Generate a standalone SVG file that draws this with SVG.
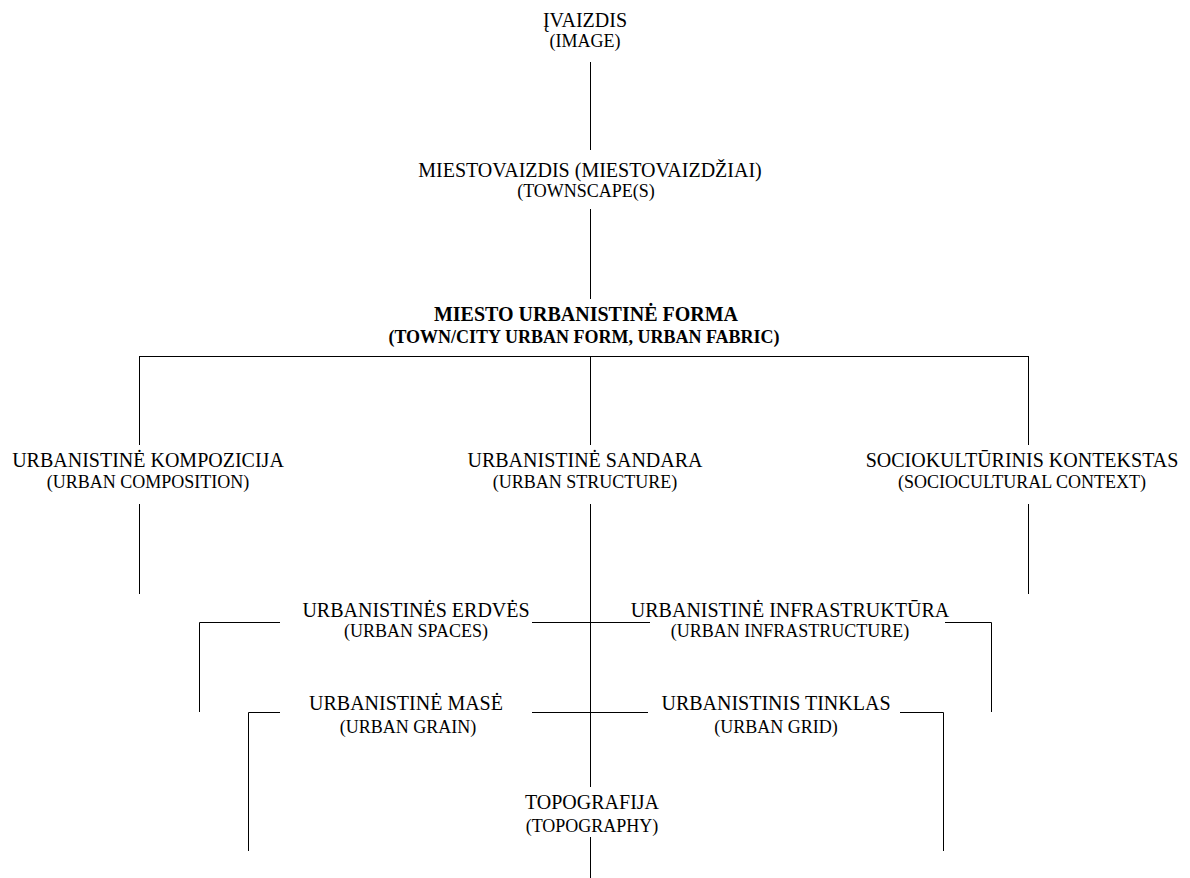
<svg xmlns="http://www.w3.org/2000/svg" width="1190" height="878" viewBox="0 0 1190 878">
<style>
.t1{font-size:20px}
.t2{font-size:18px}
.b{font-weight:bold}
.c line,.c path{stroke:#000;stroke-width:1;fill:none}
</style>
<rect width="1190" height="878" fill="#fff"/>
<g class="c" id="connectors">
<line x1="590.5" y1="62" x2="590.5" y2="150"/>
<line x1="590.5" y1="209" x2="590.5" y2="299"/>
<line x1="139" y1="356.5" x2="1029" y2="356.5"/>
<line x1="590.5" y1="356" x2="590.5" y2="445"/>
<line x1="139.5" y1="356" x2="139.5" y2="445"/>
<line x1="1028.5" y1="356" x2="1028.5" y2="445"/>
<line x1="139.5" y1="504" x2="139.5" y2="594"/>
<line x1="1028.5" y1="504" x2="1028.5" y2="594"/>
<line x1="590.5" y1="504" x2="590.5" y2="787"/>
<line x1="590.5" y1="837" x2="590.5" y2="878"/>
<path d="M280,622.5 H199.5 V712"/>
<line x1="532" y1="622.5" x2="650" y2="622.5"/>
<path d="M945,622.5 H991.5 V712"/>
<path d="M280,712.5 H248.5 V851"/>
<line x1="532" y1="712.5" x2="648" y2="712.5"/>
<path d="M900,712.5 H943.5 V851"/>
</g>
<g id="nodes" font-family="Liberation Serif" fill="#000" text-anchor="middle">
<g id="n-image"><text class="t1" x="585" y="27">ĮVAIZDIS</text><text class="t2" x="585" y="47">(IMAGE)</text></g>
<g id="n-townscape"><text class="t1" x="590" y="177">MIESTOVAIZDIS (MIESTOVAIZDŽIAI)</text><text class="t2" x="586" y="197">(TOWNSCAPE(S)</text></g>
<g id="n-form"><text class="t1 b" x="586" y="321">MIESTO URBANISTINĖ FORMA</text><text class="t2 b" x="584" y="343">(TOWN/CITY URBAN FORM, URBAN FABRIC)</text></g>
<g id="n-composition"><text class="t1" x="148" y="467">URBANISTINĖ KOMPOZICIJA</text><text class="t2" x="148" y="488">(URBAN COMPOSITION)</text></g>
<g id="n-structure"><text class="t1" x="585" y="467">URBANISTINĖ SANDARA</text><text class="t2" x="585" y="488">(URBAN STRUCTURE)</text></g>
<g id="n-context"><text class="t1" x="1022" y="467">SOCIOKULTŪRINIS KONTEKSTAS</text><text class="t2" x="1022" y="488">(SOCIOCULTURAL CONTEXT)</text></g>
<g id="n-spaces"><text class="t1" x="416" y="617">URBANISTINĖS ERDVĖS</text><text class="t2" x="416" y="637">(URBAN SPACES)</text></g>
<g id="n-infrastructure"><text class="t1" x="790" y="617">URBANISTINĖ INFRASTRUKTŪRA</text><text class="t2" x="790" y="637">(URBAN INFRASTRUCTURE)</text></g>
<g id="n-grain"><text class="t1" x="406" y="710">URBANISTINĖ MASĖ</text><text class="t2" x="408" y="733">(URBAN GRAIN)</text></g>
<g id="n-grid"><text class="t1" x="776" y="710">URBANISTINIS TINKLAS</text><text class="t2" x="776" y="733">(URBAN GRID)</text></g>
<g id="n-topography"><text class="t1" x="592" y="809">TOPOGRAFIJA</text><text class="t2" x="592" y="832">(TOPOGRAPHY)</text></g>
</g>
</svg>
